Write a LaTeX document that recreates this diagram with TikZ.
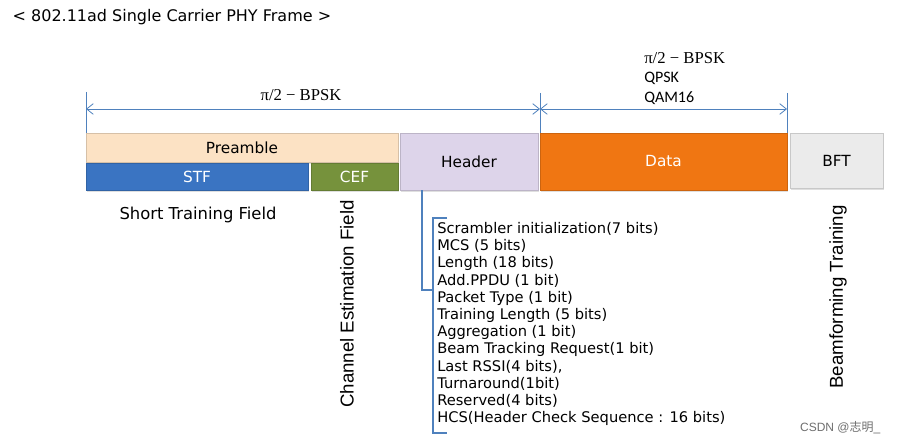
\documentclass[tikz,border=0pt]{standalone}
\usepackage{fontspec}
\setmainfont{DejaVu Sans}
\newfontfamily\arialfont{Liberation Sans}
\newfontfamily\calfont{Carlito}
\newfontfamily\cambfont{Liberation Serif}
\newfontfamily\cjkfont{Noto Sans CJK SC}
\usetikzlibrary{positioning, arrows.meta, shadows}

\definecolor{lineblue}{RGB}{79,129,189}
\definecolor{preamblefill}{RGB}{252,226,196}
\definecolor{stfblue}{RGB}{58,116,194}
\definecolor{cefgreen}{RGB}{118,146,60}
\definecolor{headerlilac}{RGB}{221,212,234}
\definecolor{dataorange}{RGB}{240,118,18}
\definecolor{bftgrey}{RGB}{235,235,235}
\definecolor{markgrey}{RGB}{110,110,110}

\begin{document}
\begin{tikzpicture}[x=0.75pt, y=-0.75pt,
    field/.style={rectangle, inner sep=0pt, fill=#1, draw=#1!85!black,
                  font=\fontsize{11.5}{13}\selectfont,
                  drop shadow={opacity=0.25, shadow xshift=1pt, shadow yshift=-1.2pt}},
    dimline/.style={lineblue, line width=0.6pt},
    tick/.style={lineblue, line width=0.6pt},
    bracket/.style={lineblue, line width=0.8pt},
    side/.style={font=\arialfont\fontsize{14}{16}\selectfont, rotate=90}]
  \tikzset{>={Straight Barb[length=5pt, width=8pt]}}
  \useasboundingbox (0,0) rectangle (899,442);

  \node[anchor=west, font=\fontsize{12}{14}\selectfont] (title) at (8,17)
       {< 802.11ad Single Carrier PHY Frame >};

  % frame fields
  \node[field=preamblefill, minimum width=234pt, minimum height=21.75pt]   (pre)  at (242,147.5) {Preamble};
  \node[field=stfblue, minimum width=166.5pt, minimum height=20.25pt,
        text=white]                                                      (stf)  at (197,176.5) {STF};
  \node[field=cefgreen, minimum width=65.25pt, minimum height=20.25pt,
        text=white]                                                      (cef)  at (354.5,176.5) {CEF};
  \node[field=headerlilac, minimum width=103.5pt, minimum height=42.75pt]  (hdr)  at (469,161.5) {Header};
  \node[field=dataorange, minimum width=185.25pt, minimum height=42.75pt,
        text=white]                                                      (data) at (663.5,161.5) {Data};
  \node[field=bftgrey, minimum width=69.75pt, minimum height=41.25pt]      (bft)  at (836.5,160.5) {BFT};

  % modulation spans
  \coordinate (t0a) at (86,92);   \coordinate (t0b) at (86,133);
  \coordinate (t1a) at (540,93);  \coordinate (t1b) at (540,133);
  \coordinate (t2a) at (787,93);  \coordinate (t2b) at (787,133);
  \coordinate (s0) at (86,109);
  \coordinate (s1) at (540,109);
  \coordinate (s2) at (787,109);
  \draw[tick] (t0a) -- (t0b);
  \draw[tick] (t1a) -- (t1b);
  \draw[tick] (t2a) -- (t2b);
  \draw[dimline, <->] (s0) -- (s1);
  \draw[dimline, <->] (s1) -- (s2);
  \node[font=\cambfont\fontsize{12.5}{14}\selectfont] (mod1) at (301,95) {π/2 − BPSK};
  \node[anchor=north west, align=left, inner sep=0pt,
        font=\calfont\fontsize{12}{14.6}\selectfont] (mod2) at (644,52)
       {{\cambfont\fontsize{12.5}{14.6}\selectfont π/2 − BPSK}\\QPSK\\QAM16};

  % descriptions
  \node[font=\fontsize{12.3}{14}\selectfont] (stflbl) at (198,215) {Short Training Field};
  \node[side] (ceflbl) at (347,304) {Channel Estimation Field};
  \node[side] (bftlbl) at (838,297) {Beamforming Training};

  % header contents
  \node[anchor=west, align=left, inner sep=0pt,
        font=\fontsize{11}{12.9}\selectfont] (bits) at (437,324)
       {Scrambler initialization(7 bits)\\
        MCS (5 bits)\\
        Length (18 bits)\\
        Add.PPDU (1 bit)\\
        Packet Type (1 bit)\\
        Training Length (5 bits)\\
        Aggregation (1 bit)\\
        Beam Tracking Request(1 bit)\\
        Last RSSI(4 bits),\\
        Turnaround(1bit)\\
        Reserved(4 bits)\\
        HCS(Header Check Sequence : 16 bits)};
  \coordinate (hb)  at (422,190);
  \coordinate (hm)  at (422,290);
  \coordinate (bm)  at (433,290);
  \coordinate (btl) at (447,218);
  \coordinate (bbl) at (447,433);
  \draw[bracket] (hb) -- (hm) -- (bm);
  \draw[bracket] (btl) -- (bm |- btl) -- (bm |- bbl) -- (bbl);

  \node[anchor=east, text=markgrey, font=\arialfont\fontsize{9}{10}\selectfont] (mark) at (885,428)
       {CSDN @{\cjkfont 志明}\_};
\end{tikzpicture}
\end{document}
